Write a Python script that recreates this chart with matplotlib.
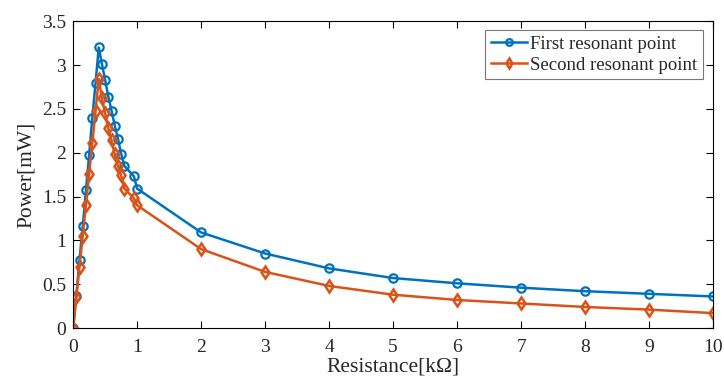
import matplotlib
matplotlib.use("Agg")
import matplotlib.pyplot as plt

resistance = [0, 0.05, 0.1, 0.15, 0.2, 0.25, 0.3, 0.35, 0.4, 0.45, 0.5, 0.55, 0.6,
              0.65, 0.7, 0.75, 0.8, 0.95, 1.0, 2, 3, 4, 5, 6, 7, 8, 9, 10]
first_power = [0, 0.37, 0.78, 1.16, 1.57, 1.97, 2.40, 2.79, 3.20, 3.01, 2.83, 2.64, 2.48,
               2.31, 2.16, 1.99, 1.85, 1.73, 1.59, 1.09, 0.85, 0.68, 0.57, 0.51, 0.46, 0.42, 0.39, 0.36]
second_power = [0, 0.35, 0.70, 1.05, 1.40, 1.76, 2.11, 2.47, 2.84, 2.62, 2.45, 2.28, 2.14,
                1.98, 1.85, 1.74, 1.59, 1.48, 1.40, 0.90, 0.64, 0.48, 0.38, 0.32, 0.28, 0.24, 0.21, 0.17]
labels = ["First resonant point", "Second resonant point"]

plt.rcParams['font.family'] = ['Liberation Serif', 'DejaVu Serif']
dark = '#262626'
plt.rcParams['text.color'] = dark
plt.rcParams['axes.labelcolor'] = dark
plt.rcParams['xtick.labelcolor'] = dark
plt.rcParams['ytick.labelcolor'] = dark

fig = plt.figure(figsize=(7.24, 3.85), dpi=100)
ax = fig.add_axes([0.101, 0.148, 0.884, 0.797])

blue = (0, 0.447, 0.741)
orange = (0.85, 0.325, 0.098)
ax.plot(resistance, first_power, color=blue, lw=1.8, marker='o', ms=6,
        mfc='none', mew=1.6, label=labels[0])
ax.plot(resistance, second_power, color=orange, lw=1.8, marker='d', ms=6.5,
        mfc='none', mew=1.8, label=labels[1])

ax.set_xlim(0, 10)
ax.set_ylim(0, 3.5)
ax.set_xticks(range(0, 11))
ax.set_yticks([0, 0.5, 1, 1.5, 2, 2.5, 3, 3.5])
ax.set_yticklabels(['0', '0.5', '1', '1.5', '2', '2.5', '3', '3.5'])
ax.tick_params(direction='in', top=True, right=True, labelsize=14, length=5, width=0.8)
ax.tick_params(axis='x', pad=8)
ax.tick_params(axis='y', pad=5)
for s in ax.spines.values():
    s.set_linewidth(0.8)
ax.set_xlabel('Resistance[kΩ]', fontsize=15.5, labelpad=1)
ax.set_ylabel('Power[mW]', fontsize=15.5, labelpad=4)

leg = ax.legend(loc='upper right', bbox_to_anchor=(703 / 724, 1 - 30 / 385),
                bbox_transform=fig.transFigure, borderaxespad=0,
                fontsize=13.5, frameon=True, fancybox=False, markerscale=0.8,
                edgecolor='#555555', handlelength=1.9, borderpad=0.3,
                labelspacing=0.2, handletextpad=0.2)
leg.get_frame().set_linewidth(0.8)

fig.savefig('out.png', dpi=100)
